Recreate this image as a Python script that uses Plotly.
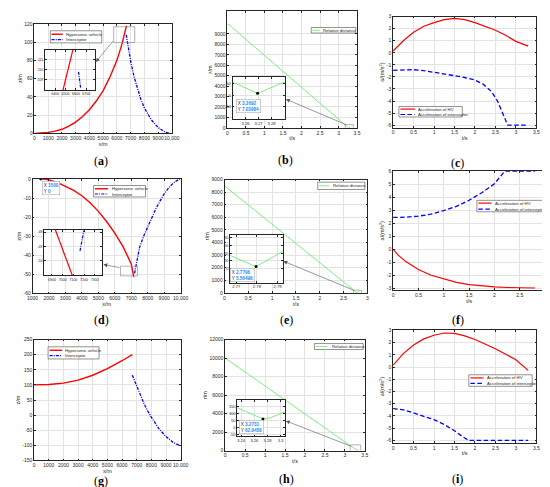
import plotly.graph_objects as go

W, H = 550, 487

# ---- (a) trajectories, case 1 ----
hv_a_x = [0, 500, 1000, 1500, 2000, 2500, 3000, 3500, 4000, 4500, 5000, 5500, 6000, 6350, 6700]
hv_a_z = [0, 0.3, 1.2, 2.6, 4.6, 8.0, 12.5, 18.5, 26, 35.5, 47, 62, 80, 97, 118]
int_a_x = [6680, 6800, 7000, 7250, 7500, 7750, 8000, 8500, 9000, 9500, 9900]
int_a_z = [108, 96, 79, 62, 48, 37, 28, 15, 6.5, 1.5, 0]
# zoomed view in the inset of (a)
ins_a_hv_x = [6470, 6575]
ins_a_hv_z = [107.8, 112.2]
ins_a_int_x = [6625, 6645]
ins_a_int_z = [109.8, 108.2]

# ---- (b) relative distance, case 1 ----
t_b = [0, 3.25, 3.2692, 3.29, 3.31]
r_b = [10000, 54, 7.04, 57, 100]
tip_b = [3.2692, 7.03984]

# ---- (c) accelerations, case 1 ----
t_c_hv = [0, 0.25, 0.5, 0.75, 1.0, 1.25, 1.5, 1.75, 2.0, 2.25, 2.5, 2.75, 3.0, 3.3]
acc_c_hv = [0.15, 1.0, 1.7, 2.2, 2.5, 2.75, 2.85, 2.75, 2.5, 2.2, 1.87, 1.45, 0.95, 0.55]
t_c_int = [0, 0.25, 0.5, 0.75, 1.0, 1.25, 1.5, 1.75, 2.0, 2.2, 2.4, 2.55, 2.7, 2.8, 3.0, 3.3]
acc_c_int = [-1.45, -1.4, -1.4, -1.48, -1.6, -1.75, -1.9, -2.05, -2.26, -2.6, -3.2, -4.0, -5.2, -6.0, -6.0, -6.0]

# ---- (d) trajectories, case 2 ----
hv_d_x = [1500, 2000, 2500, 3000, 3500, 4000, 4500, 5000, 5500, 6000, 6500, 7000, 7150]
hv_d_z = [0, -0.5, -1.8, -3.8, -6.0, -8.8, -12.5, -17.0, -22.3, -28.4, -35.5, -44.5, -51.4]
int_d_x = [7200, 7350, 7500, 7750, 8000, 8250, 8500, 8750, 9000, 9250, 9500, 9750, 9950]
int_d_z = [-49.5, -42, -36, -30, -25, -20, -15.5, -11.5, -7.8, -5, -2.6, -1, 0]
ins_d_hv_x = [6925, 7100]
ins_d_hv_z = [-47.7, -51.2]
ins_d_int_x = [7162, 7198]
ins_d_int_z = [-49.3, -47.9]
tip_d = [1500, 0]

# ---- (e) relative distance, case 2 ----
t_e = [0, 2.767, 2.7796, 2.7925, 2.83]
r_e = [8500, 34, 5.56, 44, 120]
tip_e = [2.7796, 5.56498]

# ---- (f) accelerations, case 2 ----
t_f_hv = [0, 0.1, 0.25, 0.5, 0.75, 1.0, 1.25, 1.5, 1.75, 2.0, 2.25, 2.5, 2.8]
acc_f_hv = [0, -0.45, -0.95, -1.55, -2.0, -2.3, -2.55, -2.72, -2.83, -2.9, -2.94, -2.96, -2.98]
t_f_int = [0, 0.25, 0.5, 0.75, 1.0, 1.25, 1.5, 1.75, 2.0, 2.1, 2.2, 2.5, 2.8]
acc_f_int = [2.45, 2.47, 2.55, 2.7, 2.98, 3.3, 3.77, 4.35, 5.04, 5.5, 6.0, 6.0, 6.0]

# ---- (g) trajectories, case 3 ----
hv_g_x = [0, 1000, 2000, 3000, 4000, 5000, 6000, 6700]
hv_g_z = [100, 101.5, 106, 116, 132, 154, 180, 200]
int_g_x = [6700, 7000, 7250, 7500, 7750, 8000, 8500, 9000, 9500, 9900]
int_g_z = [132, 95, 65, 38, 14, -7, -44, -71, -91, -100]

# ---- (h) relative distance, case 3 ----
t_h = [0, 3.234, 3.25, 3.26, 3.2731, 3.285, 3.295, 3.306, 3.33]
r_h = [10000, 143, 110, 88, 62.95, 72, 88, 104, 160]
tip_h = [3.2731, 62.9458]

# ---- (i) accelerations, case 3 ----
t_i_hv = [0, 0.25, 0.5, 0.75, 1.0, 1.25, 1.5, 1.75, 2.0, 2.25, 2.5, 2.75, 3.0, 3.3]
acc_i_hv = [0.15, 1.1, 1.8, 2.3, 2.6, 2.78, 2.75, 2.55, 2.25, 1.9, 1.5, 1.05, 0.6, -0.27]
t_i_int = [0, 0.25, 0.5, 0.75, 1.0, 1.25, 1.5, 1.7, 1.85, 2.5, 3.3]
acc_i_int = [-3.4, -3.5, -3.75, -4.0, -4.3, -4.7, -5.2, -5.7, -6.0, -6.0, -6.0]

# tick values
ticks_x10k = [0, 1000, 2000, 3000, 4000, 5000, 6000, 7000, 8000, 9000, 10000]
ticks_x10k_d = [1000, 2000, 3000, 4000, 5000, 6000, 7000, 8000, 9000, 10000]
ticks_t35 = [0, 0.5, 1, 1.5, 2, 2.5, 3, 3.5]
ticks_t3 = [0, 0.5, 1, 1.5, 2, 2.5, 3]
ticks_z_a = [0, 20, 40, 60, 80, 100, 120]
ticks_r_b = [0, 1000, 2000, 3000, 4000, 5000, 6000, 7000, 8000, 9000]
ticks_acc = [-6, -5, -4, -3, -2, -1, 0, 1, 2, 3]
ticks_z_d = [-60, -50, -40, -30, -20, -10, 0]
ticks_acc_f = [-3, -2, -1, 0, 1, 2, 3, 4, 5, 6]
ticks_z_g = [-150, -100, -50, 0, 50, 100, 150, 200, 250]
ticks_r_h = [0, 2000, 4000, 6000, 8000, 10000, 12000]

RED = '#ff0000'
BLUE = '#0000ff'
GREEN = '#5ee85e'
INK = '#262626'
FONT = 'Arial, Liberation Sans, sans-serif'
TIPBLUE = '#1a8cff'


def px(x):
    return x / W


def py(y):
    return 1 - y / H


def lab(v, comma=False):
    if comma and v == 10000:
        return '10,000'
    return '%g' % v


layout = dict(width=W, height=H, margin=dict(l=0, r=0, t=0, b=0),
              paper_bgcolor='white', plot_bgcolor='white', showlegend=False,
              font=dict(family=FONT, size=5, color=INK))


def set_axes(n, box, xr, yr, xt, yt, xlab=None, ylab=None, fs=5):
    x0, y0, x1, y1 = box
    s = '' if n == 1 else str(n)
    common = dict(showgrid=True, gridcolor='#e3e3e3', gridwidth=0.5, zeroline=False,
                  showline=True, linecolor=INK, linewidth=0.6, mirror='ticks',
                  ticks='inside', ticklen=2, tickwidth=0.5, tickcolor=INK, tickangle=0,
                  tickfont=dict(size=fs, family=FONT, color=INK))
    layout['xaxis' + s] = dict(common, domain=[px(x0), px(x1)], range=xr, anchor='y' + s,
                               tickvals=xt, ticktext=[lab(v, True) for v in xt],
                               title=dict(text=xlab, font=dict(size=5.5), standoff=1))
    layout['yaxis' + s] = dict(common, domain=[py(y1), py(y0)], range=yr, anchor='x' + s,
                               tickvals=yt, ticktext=[lab(v) for v in yt],
                               title=dict(text=ylab, font=dict(size=5.5), standoff=1))


ACC = 'a/(m/s<sup>2</sup>)'
set_axes(1, (21, 13, 162, 124), [0, 10000], [0, 120], ticks_x10k, ticks_z_a, 'x/m', 'z/m')
set_axes(2, (219, 0, 352, 118.3), [0, 3.5], [0, 11200], ticks_t35, ticks_r_b, 't/s', 'r/m')
set_axes(3, (389, 5.7, 536, 118), [0, 3.5], [-6.2, 3], ticks_t35, ticks_acc, 't/s', ACC)
set_axes(4, (19, 170, 171, 286), [1000, 10000], [-60, 0], ticks_x10k_d, ticks_z_d, 'x/m', 'z/m')
set_axes(5, (216, 170.7, 362.7, 285.3), [0, 3], [0, 9000], ticks_t3, ticks_r_b, 't/s', 'r/m')
set_axes(6, (389, 162.3, 545, 282.7), [0, 3], [-3.15, 6], ticks_t3, ticks_acc_f, 't/s', ACC)
set_axes(7, (20.7, 332.7, 171, 455), [0, 10000], [-150, 250], ticks_x10k, ticks_z_g, 'x/m', 'z/m')
set_axes(8, (216.7, 332.7, 360, 445), [0, 3.5], [0, 12000], ticks_t35, ticks_r_h, 't/s', 'r/m')
set_axes(9, (389, 323.3, 536, 437.3), [0, 3.5], [-6.2, 3], ticks_t35, ticks_acc, 't/s', ACC)
# insets
set_axes(10, (31.7, 39.3, 82.7, 80), [6300, 6780], [108, 112], [6400, 6500, 6600, 6700], [109, 110, 111], fs=3.6)
set_axes(11, (224.3, 66.7, 277.7, 109.3), [3.25, 3.29], [-100, 76], [3.26, 3.27, 3.28], [-50, 0, 50], fs=4.2)
set_axes(12, (30.7, 221.7, 90, 267.7), [6825, 7365], [-51, -47.85], [6900, 7000, 7100, 7200, 7300], [-50, -49, -48], fs=3.6)
set_axes(13, (221.7, 226.7, 275.7, 275), [2.767, 2.7925], [-35, 86], [2.77, 2.78, 2.79], [0, 20, 40, 60, 80], fs=4.2)
set_axes(14, (229, 394, 277.7, 430.7), [3.234, 3.306], [-60, 196], [3.24, 3.26, 3.28, 3.3], [-50, 0, 50, 100, 150], fs=4.0)

fig = go.Figure(layout=layout)

DASHDOT = '3px,1.2px,1px,1.2px'
DASH = '4.5px,2.5px'


def line(x, y, n, color, width=1.3, dash='solid'):
    s = '' if n == 1 else str(n)
    fig.add_trace(go.Scatter(x=x, y=y, xaxis='x' + s, yaxis='y' + s, mode='lines',
                             line=dict(color=color, width=width, dash=dash), hoverinfo='skip'))


line(hv_a_x, hv_a_z, 1, RED, 1.4)
line(int_a_x, int_a_z, 1, BLUE, 1.3, DASHDOT)
line(t_b, r_b, 2, GREEN, 0.8)
line(t_c_hv, acc_c_hv, 3, RED, 1.2)
line(t_c_int, acc_c_int, 3, BLUE, 1.3, DASH)
line(hv_d_x, hv_d_z, 4, RED, 1.4)
line(int_d_x, int_d_z, 4, BLUE, 1.3, DASHDOT)
line(t_e, r_e, 5, GREEN, 0.8)
line(t_f_hv, acc_f_hv, 6, RED, 1.2)
line(t_f_int, acc_f_int, 6, BLUE, 1.3, DASH)
line(hv_g_x, hv_g_z, 7, RED, 1.4)
line(int_g_x, int_g_z, 7, BLUE, 1.3, DASHDOT)
line(t_h, r_h, 8, GREEN, 0.8)
line(t_i_hv, acc_i_hv, 9, RED, 1.2)
line(t_i_int, acc_i_int, 9, BLUE, 1.3, DASH)
# insets
line(ins_a_hv_x, ins_a_hv_z, 10, RED, 1.2)
line(ins_a_int_x, ins_a_int_z, 10, BLUE, 1.2, DASHDOT)
line(t_b, r_b, 11, GREEN, 0.8)
line(ins_d_hv_x, ins_d_hv_z, 12, RED, 1.2)
line(ins_d_int_x, ins_d_int_z, 12, BLUE, 1.2, DASHDOT)
line(t_e, r_e, 13, GREEN, 0.8)
line(t_h, r_h, 14, GREEN, 0.8)

# data tip points
for tip, n in [(tip_b, 11), (tip_d, 4), (tip_e, 13), (tip_h, 14)]:
    fig.add_trace(go.Scatter(x=[tip[0]], y=[tip[1]], xaxis='x%d' % n, yaxis='y%d' % n,
                             mode='markers', marker=dict(color='black', size=3), hoverinfo='skip'))

shapes = []
annos = []


def legend(box, rows, sx, tx):
    x0, y0, x1, y1 = box
    shapes.append(dict(type='rect', xref='paper', yref='paper', x0=px(x0), x1=px(x1),
                       y0=py(y1), y1=py(y0), fillcolor='white', layer='above',
                       line=dict(color=INK, width=0.5)))
    for ry, name, color, dash, width in rows:
        shapes.append(dict(type='line', xref='paper', yref='paper', x0=px(sx[0]), x1=px(sx[1]),
                           y0=py(ry), y1=py(ry), layer='above',
                           line=dict(color=color, width=width, dash=dash)))
        annos.append(dict(text=name, xref='paper', yref='paper', x=px(tx), y=py(ry),
                          xanchor='left', yanchor='middle', showarrow=False,
                          font=dict(size=4.3, family=FONT, color=INK)))


TRAJ = ['Hypersonic vehicle', 'Interceptor']
ACCN = ['Acceleration of HV', 'Acceleration of interceptor']
legend((37.3, 20, 90, 32.3), [(23.5, TRAJ[0], RED, 'solid', 1.4), (29, TRAJ[1], BLUE, DASHDOT, 1.2)], (38.5, 50), 51)
legend((305, 16.7, 350.7, 22.3), [(19.5, 'Relative distance', GREEN, 'solid', 0.8)], (306, 313.5), 315)
legend((395, 96.7, 460, 107.3), [(99.3, ACCN[0], RED, 'solid', 1.2), (104.8, ACCN[1], BLUE, DASH, 1.2)], (396.5, 411.5), 413)
legend((81.7, 176.7, 135, 188.3), [(180, TRAJ[0], RED, 'solid', 1.4), (185.3, TRAJ[1], BLUE, DASHDOT, 1.2)], (83, 96.5), 98)
legend((311.7, 173.3, 360, 180.7), [(177, 'Relative distance', GREEN, 'solid', 0.8)], (313, 323.5), 325.5)
legend((475, 191.7, 543.3, 203.3), [(194.5, ACCN[0], RED, 'solid', 1.2), (200.5, ACCN[1], BLUE, DASH, 1.2)], (476.5, 490), 491.5)
legend((35, 340, 87.3, 352.3), [(343.5, TRAJ[0], RED, 'solid', 1.4), (349, TRAJ[1], BLUE, DASHDOT, 1.2)], (36.5, 49.5), 50.7)
legend((308.3, 336.7, 358.3, 342.7), [(339.7, 'Relative distance', GREEN, 'solid', 0.8)], (310, 321.5), 324)
legend((466.7, 368.3, 531.7, 380), [(371.5, ACCN[0], RED, 'solid', 1.2), (377, ACCN[1], BLUE, DASH, 1.2)], (468.3, 481.7), 483.3)

# zoom boxes in the main axes
for n, x0, x1, y0, y1 in [(1, 5770, 7300, 99.5, 116.8), (2, 3.18, 3.40, -95, 313),
                          (4, 6347, 7377, -50.8, -45.7), (5, 2.705, 2.877, -55, 204),
                          (8, 3.134, 3.395, -107, 609)]:
    s = '' if n == 1 else str(n)
    shapes.append(dict(type='rect', xref='x' + s, yref='y' + s, x0=x0, x1=x1, y0=y0, y1=y1,
                       layer='above', line=dict(color='#808080', width=0.6)))

# arrows from zoom boxes to insets (tail offset in pixels from head)
for (ax, ay), (hx, hy) in [((102.3, 29.3), (84, 51.7)), ((340.5, 115.3), (279, 89.3)),
                           ((109.3, 260), (91.7, 256.7)), ((348.3, 283), (276.5, 253.3)),
                           ((345, 440.7), (279, 415))]:
    annos.append(dict(x=px(hx), y=py(hy), ax=ax - hx, ay=ay - hy, xref='paper', yref='paper',
                      axref='pixel', ayref='pixel', text='', showarrow=True, arrowhead=2,
                      arrowsize=1.3, arrowwidth=0.6, arrowcolor='#555555', standoff=0))

# data tip boxes
for (bx, by), tip in [((228, 89.5), tip_b), ((28.5, 172), tip_d), ((222, 260.3), tip_e),
                      ((231, 414.6), tip_h)]:
    txt = ("X <b><span style='color:%s'>%g</span></b><br>Y <b><span style='color:%s'>%g</span></b>"
           % (TIPBLUE, tip[0], TIPBLUE, tip[1]))
    annos.append(dict(text=txt, xref='paper', yref='paper', x=px(bx), y=py(by),
                      xanchor='left', yanchor='top', align='left', showarrow=False,
                      bgcolor='white', bordercolor='#9a9a9a', borderwidth=0.5, borderpad=1.2,
                      font=dict(size=4.6, family=FONT, color=INK)))

# panel letters
for letter, (lx, ly) in zip('abcdefghi', [(89, 152), (279, 151), (455, 154), (90, 313),
                                          (280, 313), (456, 313), (89, 476), (280, 474), (455, 474)]):
    annos.append(dict(text='(<b>%s</b>)' % letter, xref='paper', yref='paper', x=px(lx), y=py(ly),
                      showarrow=False, xanchor='center', yanchor='middle',
                      font=dict(size=12, family='Liberation Serif, Times New Roman, serif', color='black')))

fig.update_layout(shapes=shapes, annotations=annos)
fig.write_html("out.html")
